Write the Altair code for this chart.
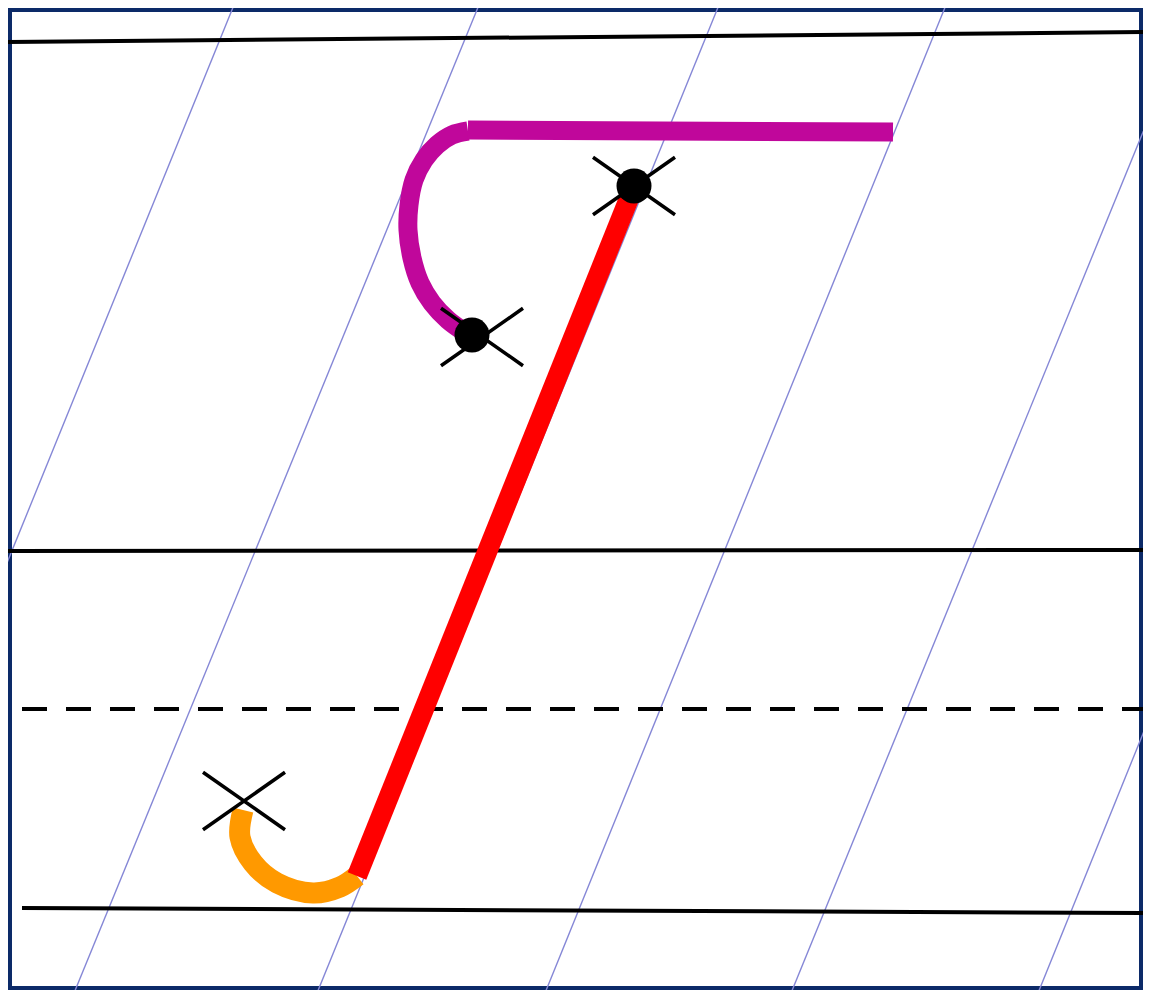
import altair as alt
import pandas as pd

# ---- data (image pixel coordinates, y downwards) ----
# slanted guide lines: x where each crosses y=0 and y=998
guide_top_x = [236, 481, 721, 948, 1197, 1440]
guide_bottom_x = [-170, 72, 315, 543, 789, 1036]

# horizontal ruling lines
hline_x1 = [8, 8, 22]
hline_y1 = [42, 551, 908]
hline_x2 = [1151, 1151, 1151]
hline_y2 = [32, 550, 913]
dash_x1 = [22]
dash_y1 = [709]
dash_x2 = [1151]
dash_y2 = [709]

# stroke 1 (magenta): hook curve then the flat top bar
magenta_curve_x = [466, 448, 432, 420, 412, 408, 409, 414, 424, 437, 452, 468]
magenta_curve_y = [333, 320, 303, 283, 258, 230, 205, 180, 160, 145, 135, 131]
magenta_bar_x = [468, 893]
magenta_bar_y = [130, 132]

# stroke 2 (red): the long slanted stem
red_x = [634, 357]
red_y = [186, 876]

# stroke 3 (orange): the bottom hook
orange_x = [357, 340, 313, 277, 253, 240, 243]
orange_y = [876, 887, 893, 883, 863, 837, 810]

# start dots and cross marks
dot_x = [634, 472]
dot_y = [186, 335]
cross_x = [634, 482, 244]
cross_y = [186, 337, 801]

# ---- chart ----
W, H = 1135, 982
xs = alt.Scale(domain=[8, 1143], nice=False, zero=False)
ys = alt.Scale(domain=[8, 990], nice=False, zero=False, reverse=True)


def X(f="x"):
    return alt.X(f"{f}:Q", scale=xs, axis=None)


def Y(f="y"):
    return alt.Y(f"{f}:Q", scale=ys, axis=None)


guides = alt.Chart(pd.DataFrame({
    "x": guide_top_x, "y": [0] * len(guide_top_x),
    "x2": guide_bottom_x, "y2": [998] * len(guide_top_x)})
).mark_rule(color="#8587d6", strokeWidth=1.4, clip=True).encode(
    x=X(), y=Y(), x2="x2:Q", y2="y2:Q")

hlines = alt.Chart(pd.DataFrame({
    "x": hline_x1, "y": hline_y1, "x2": hline_x2, "y2": hline_y2})
).mark_rule(color="black", strokeWidth=4, clip=True).encode(
    x=X(), y=Y(), x2="x2:Q", y2="y2:Q")

dashed = alt.Chart(pd.DataFrame({
    "x": dash_x1, "y": dash_y1, "x2": dash_x2, "y2": dash_y2})
).mark_rule(color="black", strokeWidth=4, strokeDash=[25, 19], clip=True).encode(
    x=X(), y=Y(), x2="x2:Q", y2="y2:Q")


def path_layer(xv, yv, color, width, interp="linear"):
    df = pd.DataFrame({"x": xv, "y": yv, "i": list(range(len(xv)))})
    return alt.Chart(df).mark_line(
        color=color, strokeWidth=width, strokeCap="butt",
        interpolate=interp, clip=True
    ).encode(x=X(), y=Y(), order=alt.Order("i:Q"))


magenta_curve = path_layer(magenta_curve_x, magenta_curve_y, "#c0079b", 19, "catmull-rom")
magenta_bar = path_layer(magenta_bar_x, magenta_bar_y, "#c0079b", 19)
red = path_layer(red_x, red_y, "#ff0000", 20)
orange = path_layer(orange_x, orange_y, "#ff9900", 21, "catmull-rom")

dots = alt.Chart(pd.DataFrame({"x": dot_x, "y": dot_y})).mark_point(
    shape="circle", filled=True, color="black", size=1225, opacity=1
).encode(x=X(), y=Y())

crosses = alt.Chart(pd.DataFrame({"x": cross_x, "y": cross_y})).mark_point(
    shape="M-1,-0.7L1,0.7M-1,0.7L1,-0.7", filled=False, stroke="black",
    strokeWidth=3.5, size=6724, opacity=1
).encode(x=X(), y=Y())

chart = alt.layer(
    guides, hlines, dashed, magenta_curve, magenta_bar, orange, red, dots, crosses
).properties(
    width=W, height=H, padding=0, autosize=alt.AutoSizeParams(type="none"),
    background="white"
).configure_view(stroke="#0c2a68", strokeWidth=8)

chart.save("out.html", embed_options={"renderer": "svg", "actions": False})
